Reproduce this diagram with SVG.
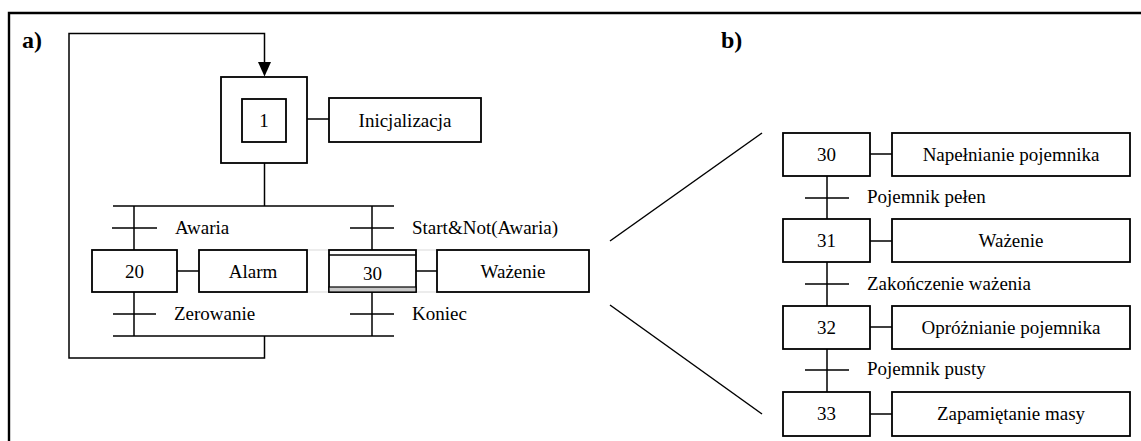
<svg xmlns="http://www.w3.org/2000/svg" width="1141" height="441" viewBox="0 0 1141 441">
  <style>
    .box { fill: #fff; stroke: #000; stroke-width: 1.8; }
    .ln { fill: none; stroke: #000; stroke-width: 1.5; }
    .faint { fill: none; stroke: #dadada; stroke-width: 1.2; }
    .frame { fill: none; stroke: #000; stroke-width: 2.4; }
    text { font-family: "Liberation Serif", "Times New Roman", serif; font-size: 19px; fill: #000; }
    .mid { text-anchor: middle; }
    .tag { font-size: 24px; font-weight: bold; }
  </style>

  <!-- outer frame (top and left edges) -->
  <path class="frame" d="M9,441 V13 H1141"/>

  <text class="tag" x="22" y="48">a)</text>
  <text class="tag" x="721" y="48">b)</text>

  <!-- connectors -->
  <g id="connectors">
    <!-- loop back to initial step -->
    <path class="ln" d="M264.5,336 V358 H69 V33.5 H264.5 V63"/>
    <polygon points="258,62 271,62 264.5,76.5" fill="#000"/>
    <!-- step 1 to divergence -->
    <path class="ln" d="M264.5,163 V206"/>
    <path class="ln" d="M307,119 H329"/>
    <!-- divergence / convergence -->
    <path class="ln" d="M113,206 H394"/>
    <path class="ln" d="M113,336 H394"/>
    <!-- left branch -->
    <path class="ln" d="M134,206 V250 M134,292 V336"/>
    <path class="ln" d="M112,228 H157 M113,314 H156"/>
    <path class="ln" d="M177,271 H199"/>
    <!-- right branch -->
    <path class="ln" d="M372,206 V250 M372,292 V336"/>
    <path class="ln" d="M350,228 H394 M350,314 H394"/>
    <path class="ln" d="M416,271 H437"/>
    <path class="faint" d="M307,250 H329 M307,292 H329 M416,250 H437 M416,292 H437"/>
    <!-- zoom lines -->
    <path class="ln" d="M610,241 L762,133"/>
    <path class="ln" d="M610,305 L762,414"/>
    <!-- expanded sequence -->
    <path class="ln" d="M827,176 V219 M827,262 V306 M827,349 V392"/>
    <path class="ln" d="M805,198 H849 M805,284 H849 M805,370 H849"/>
    <path class="ln" d="M870,154 H892 M870,241 H892 M870,327 H892 M870,414 H892"/>
  </g>

  <!-- transition labels -->
  <g id="transitions">
    <text x="175" y="234">Awaria</text>
    <text x="412" y="234">Start&amp;Not(Awaria)</text>
    <text x="174" y="320">Zerowanie</text>
    <text x="412" y="320">Koniec</text>
    <text x="867" y="203">Pojemnik pełen</text>
    <text x="867" y="290">Zakończenie ważenia</text>
    <text x="867" y="375">Pojemnik pusty</text>
  </g>

  <g id="step-1">
    <rect class="box" x="221" y="77" width="86" height="86"/>
    <rect class="box" x="242" y="99" width="44" height="43"/>
    <text class="mid" x="264" y="127">1</text>
  </g>
  <g id="action-1">
    <rect class="box" x="329" y="98" width="152" height="44"/>
    <text class="mid" x="405" y="127">Inicjalizacja</text>
  </g>

  <g id="step-20">
    <rect class="box" x="92" y="250" width="85" height="42"/>
    <text class="mid" x="134.5" y="278">20</text>
  </g>
  <g id="action-20">
    <rect class="box" x="199" y="250" width="108" height="42"/>
    <text class="mid" x="253" y="278">Alarm</text>
  </g>

  <g id="step-30-macro">
    <rect class="box" x="329" y="250" width="87" height="42"/>
    <rect x="329" y="287" width="87" height="5" fill="#c8c8c8" stroke="#000" stroke-width="1.2"/>
    <path class="ln" d="M329,255 H416"/>
    <text class="mid" x="372.5" y="280">30</text>
  </g>
  <g id="action-30-macro">
    <rect class="box" x="437" y="250" width="152" height="42"/>
    <text class="mid" x="513" y="278">Ważenie</text>
  </g>

  <g id="step-30">
    <rect class="box" x="783" y="133" width="87" height="43"/>
    <text class="mid" x="826.5" y="161">30</text>
  </g>
  <g id="action-30">
    <rect class="box" x="892" y="133" width="238" height="43"/>
    <text class="mid" x="1011" y="161">Napełnianie pojemnika</text>
  </g>

  <g id="step-31">
    <rect class="box" x="783" y="219" width="87" height="43"/>
    <text class="mid" x="826.5" y="247">31</text>
  </g>
  <g id="action-31">
    <rect class="box" x="892" y="219" width="238" height="43"/>
    <text class="mid" x="1011" y="247">Ważenie</text>
  </g>

  <g id="step-32">
    <rect class="box" x="783" y="306" width="87" height="43"/>
    <text class="mid" x="826.5" y="334">32</text>
  </g>
  <g id="action-32">
    <rect class="box" x="892" y="306" width="238" height="43"/>
    <text class="mid" x="1011" y="334">Opróżnianie pojemnika</text>
  </g>

  <g id="step-33">
    <rect class="box" x="783" y="392" width="87" height="44"/>
    <text class="mid" x="826.5" y="420">33</text>
  </g>
  <g id="action-33">
    <rect class="box" x="892" y="392" width="238" height="44"/>
    <text class="mid" x="1011" y="420">Zapamiętanie masy</text>
  </g>
</svg>
